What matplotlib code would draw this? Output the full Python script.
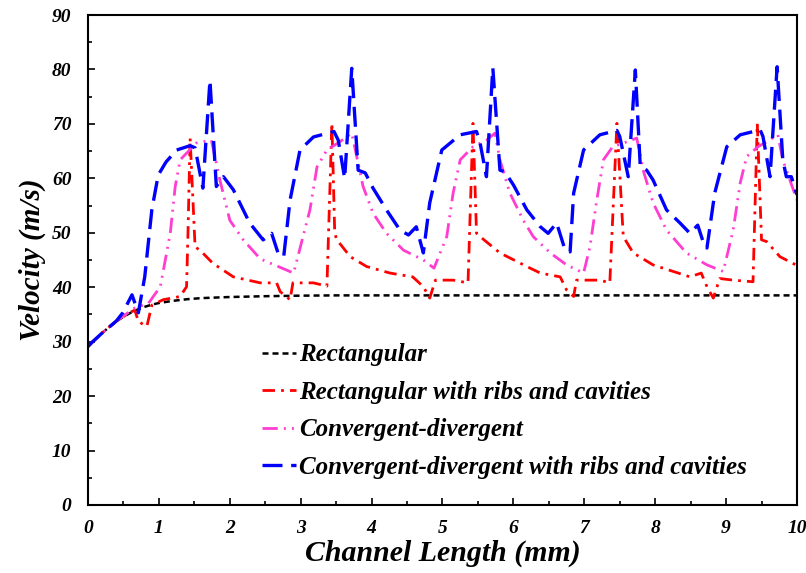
import matplotlib
matplotlib.use('Agg')
import matplotlib.pyplot as plt
from matplotlib.ticker import MultipleLocator

plt.rcParams['font.family'] = 'Liberation Serif'
plt.rcParams['font.weight'] = 'bold'
plt.rcParams['font.style'] = 'italic'

# Rectangular channel
x_rect = [0, 0.1, 0.2, 0.3, 0.4, 0.5, 0.6, 0.7, 0.8, 0.9, 1.0, 1.2, 1.4, 1.6, 1.8,
          2.0, 2.5, 3.0, 3.5, 4.0, 5.0, 6.0, 7.0, 8.0, 9.0, 10.0]
v_rect = [29.0, 30.4, 31.6, 32.7, 33.7, 34.6, 35.3, 35.9, 36.4, 36.8, 37.1, 37.5,
          37.8, 38.0, 38.1, 38.2, 38.35, 38.45, 38.5, 38.5, 38.5, 38.5, 38.5, 38.5,
          38.5, 38.5]

# Rectangular with ribs and cavities
x_rib = [0, 0.2, 0.4, 0.6, 0.66, 0.71, 0.83, 0.90, 1.06, 1.3, 1.39, 1.41, 1.44, 1.48,
         1.51, 1.58, 1.76, 2.05, 2.43, 2.66, 2.71, 2.85, 2.89, 3.18, 3.37, 3.44, 3.48,
         3.51, 3.70, 3.93, 4.26, 4.58, 4.73, 4.82, 4.90, 5.15, 5.36, 5.43, 5.48, 5.53,
         5.81, 6.19, 6.38, 6.66, 6.75, 6.85, 6.89, 7.22, 7.36, 7.46, 7.55, 7.69, 7.97,
         8.49, 8.65, 8.73, 8.82, 8.91, 9.10, 9.38, 9.44, 9.50, 9.57, 9.76, 10.0]
v_rib = [29.2, 31.6, 33.8, 35.4, 35.8, 33.7, 32.8, 36.7, 37.7, 38.3, 40.1, 49.9, 67.4,
         56.0, 47.4, 46.8, 44.4, 41.9, 40.8, 40.8, 39.2, 37.7, 40.8, 40.8, 40.2, 70.1,
         49.9, 48.7, 45.6, 43.8, 42.6, 41.9, 40.1, 38.0, 41.3, 41.3, 40.8, 70.1, 49.9,
         49.3, 46.3, 43.8, 42.6, 41.9, 39.5, 38.3, 41.3, 41.3, 40.8, 70.1, 49.3, 46.3,
         44.1, 41.9, 42.6, 40.1, 38.0, 41.6, 41.3, 41.0, 70.1, 48.7, 48.4, 45.6, 44.0]

# Convergent-divergent
x_cd = [0, 0.2, 0.4, 0.66, 0.85, 1.02, 1.16, 1.23, 1.30, 1.53, 1.74, 1.86, 2.0, 2.19,
        2.43, 2.90, 3.13, 3.23, 3.37, 3.55, 3.72, 3.79, 3.88, 4.02, 4.21, 4.45, 4.73,
        4.88, 5.06, 5.15, 5.25, 5.43, 5.62, 5.74, 5.81, 5.95, 6.14, 6.28, 6.52, 6.75,
        6.99, 7.08, 7.17, 7.27, 7.40, 7.60, 7.74, 7.83, 7.97, 8.16, 8.44, 8.73, 8.96,
        9.10, 9.20, 9.29, 9.45, 9.57, 9.73, 9.80, 10.0]
v_cd = [29.2, 31.6, 33.8, 36.2, 37.0, 40.1, 49.9, 58.5, 63.4, 66.5, 67.0, 59.7, 52.3,
        48.7, 45.2, 42.6, 54.2, 62.1, 65.2, 66.7, 68.3, 64.0, 58.5, 53.6, 49.9, 46.8,
        45.0, 43.5, 49.3, 57.3, 63.4, 65.8, 67.0, 68.3, 63.4, 57.3, 52.3, 49.3, 46.3,
        44.1, 42.6, 47.4, 55.5, 63.4, 65.8, 66.7, 67.4, 61.5, 55.5, 50.5, 46.3, 44.1,
        42.9, 50.5, 59.2, 64.0, 65.8, 66.7, 68.0, 63.4, 56.0]

# Convergent-divergent with ribs and cavities
x_cdr = [0, 0.2, 0.4, 0.49, 0.62, 0.71, 0.80, 0.90, 0.99, 1.10, 1.25, 1.44, 1.51, 1.62,
         1.72, 1.81, 1.91, 2.05, 2.28, 2.47, 2.59, 2.68, 2.76, 2.85, 2.99, 3.18, 3.47,
         3.53, 3.62, 3.72, 3.81, 3.91, 4.02, 4.21, 4.40, 4.52, 4.63, 4.73, 4.82, 4.99,
         5.25, 5.48, 5.53, 5.62, 5.71, 5.81, 5.88, 6.0, 6.19, 6.38, 6.49, 6.61, 6.73,
         6.80, 6.85, 6.99, 7.22, 7.46, 7.50, 7.62, 7.72, 7.79, 7.88, 7.97, 8.16, 8.35,
         8.49, 8.60, 8.70, 8.73, 8.84, 9.01, 9.20, 9.48, 9.52, 9.62, 9.72, 9.80, 9.85,
         9.92, 10.0]
v_cdr = [29.2, 31.6, 33.8, 35.3, 38.6, 35.3, 41.9, 54.2, 60.6, 63.0, 65.2, 66.0, 65.6,
         58.2, 78.0, 58.5, 60.3, 57.9, 51.8, 48.7, 49.9, 46.3, 45.6, 56.0, 65.2, 67.6,
         68.6, 67.0, 60.0, 80.2, 61.5, 61.0, 58.2, 54.2, 50.5, 49.6, 51.1, 46.3, 55.5,
         65.2, 68.0, 68.6, 66.5, 60.3, 80.3, 61.5, 61.2, 58.8, 54.2, 51.1, 49.9, 51.8,
         46.8, 46.5, 57.3, 65.2, 68.0, 68.8, 67.7, 60.3, 79.9, 62.1, 61.5, 59.7, 54.2,
         51.8, 49.9, 51.4, 47.4, 47.2, 57.3, 65.8, 68.0, 68.9, 67.7, 60.3, 80.5, 63.4,
         60.3, 60.3, 57.0]

fig = plt.figure(figsize=(8.06, 5.73), dpi=100)
ax = fig.add_axes([0.1092, 0.1187, 0.8796, 0.8551])

ax.plot(x_rect, v_rect, color='black', lw=1.8, dashes=(2.4, 1.6), label='Rectangular')
ax.plot(x_rib, v_rib, color='#FF0000', lw=2.0, dashes=(4.5, 2.2, 1.0, 2.2),
        label='Rectangular with ribs and cavities')
ax.plot(x_cd, v_cd, color='#FF3DD0', lw=2.0, dashes=(5.5, 2.2, 0.7, 2.2, 0.7, 2.2),
        label='Convergent-divergent')
ax.plot(x_cdr, v_cdr, color='#0000FF', lw=2.4, dashes=(6.0, 2.6),
        label='Convergent-divergent with ribs and cavities')

ax.set_xlim(0, 10)
ax.set_ylim(0, 90)
ax.xaxis.set_major_locator(MultipleLocator(1))
ax.xaxis.set_minor_locator(MultipleLocator(0.5))
ax.yaxis.set_major_locator(MultipleLocator(10))
ax.yaxis.set_minor_locator(MultipleLocator(5))
ax.tick_params(which='both', direction='in', top=False, right=False, width=1.2)
ax.tick_params(which='major', length=5, labelsize=14)
ax.tick_params(axis='x', which='major', pad=11)
ax.tick_params(axis='y', which='major', pad=12)
ax.tick_params(which='minor', length=3)
for s in ax.spines.values():
    s.set_linewidth(1.5)

ax.set_xlabel('Channel Length (mm)', fontsize=21.5, fontweight='bold', labelpad=2)
ax.set_ylabel('Velocity (m/s)', fontsize=21, fontweight='bold', labelpad=4)

ax.legend(loc='lower left', bbox_to_anchor=(0.232, 0.033), frameon=False, fontsize=18,
          handlelength=1.35, handletextpad=0.1, labelspacing=0.58, borderaxespad=0)

fig.savefig('out.png', dpi=100)
